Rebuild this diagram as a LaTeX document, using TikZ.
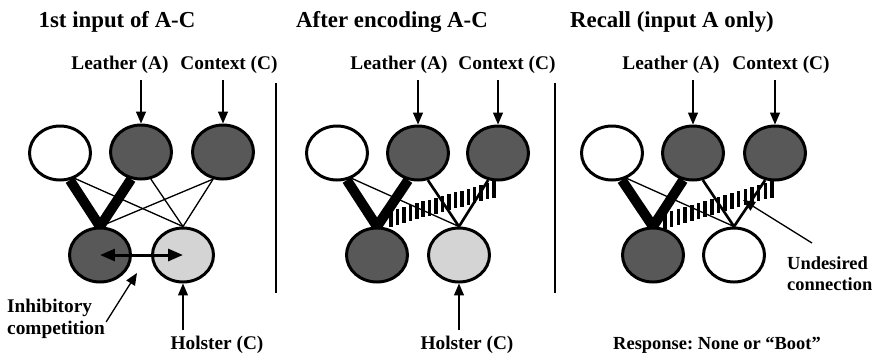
\documentclass[tikz,border=0pt]{standalone}
\usepackage{fontspec}
\setmainfont{Liberation Serif}
\frenchspacing
\definecolor{unitdark}{RGB}{88,88,88}
\definecolor{unitlight}{RGB}{212,212,212}
\usetikzlibrary{arrows.meta,positioning,shapes.geometric,calc,backgrounds}

\newcommand{\hatchband}[2]{%
  \foreach \i in {0,...,16} {\draw[line width=2pt] ($(#1)!\i/16!(#2)$) ++(0,-8) -- ++(0,16);}}

\begin{document}
\begin{tikzpicture}[x=0.02cm, y=-0.02cm,
  unit/.style={draw=black, line width=1.7pt, ellipse, minimum width=1.22cm, minimum height=1.08cm, inner sep=0pt},
  on/.style={unit, fill=unitdark},
  off/.style={unit, fill=white},
  half/.style={unit, fill=unitlight},
  title/.style={font=\fontsize{13}{15}\selectfont\bfseries},
  lab/.style={font=\fontsize{11}{12.5}\selectfont\bfseries, align=left},
  inp/.style={line width=0.75pt, -{Triangle[length=0.24cm,width=0.2cm]}},
  dbl/.style={line width=1.7pt, {Triangle[length=0.3cm,width=0.24cm]}-{Triangle[length=0.3cm,width=0.24cm]}},
  strong/.style={line width=0.2cm},
  mid/.style={line width=1.5pt},
  weak/.style={line width=0.75pt}
]
  \useasboundingbox (0,0) rectangle (875,360);

  %% Titles
  \node[title] (t1) at (117,22) {1st input of A-C};
  \node[title] (t2) at (392,22) {After encoding A-C};
  \node[title] (t3) at (672,22) {Recall (input A only)};

  %% Separators
  \draw[line width=0.75pt] (276,83) -- (276,293);
  \draw[line width=0.75pt] (555,83) -- (555,293);

  %% Panel 1: first input
  \node[off]  (o1) at (60,153) {};
  \node[on]   (a1) at (141,152) {};
  \node[on]   (c1) at (223,152) {};
  \node[on]   (r1) at (100,255) {};
  \node[half] (h1) at (183,255) {};
  \node[lab] (la1) at (120,65) {Leather (A)};
  \node[lab] (lc1) at (229,65) {Context (C)};
  \node[lab] (lh1) at (217,345) {Holster (C)};
  \node[lab, anchor=north west] (ic) at (1,293) {Inhibitory\\competition};
  \coordinate (gap1) at (137,273);
  \draw[inp] (la1.south -| a1.north) -- (a1.north);
  \draw[inp] (lc1.south -| c1.north) -- (c1.north);
  \draw[inp] (lh1.north -| h1.south) -- (h1.south);
  \draw[inp] ($(ic.east)+(-5,3)$) -- (gap1);
  \draw[dbl] (r1.center) -- (h1.center);
  \begin{scope}[on background layer]
    \draw[strong] (o1.290) -- (r1.north);
    \draw[strong] (a1.250) -- (r1.north);
    \draw[weak] (o1.300) -- (h1.north);
    \draw[weak] (a1.290) -- (h1.north);
    \draw[weak] (c1.250) -- (r1.north);
    \draw[weak] (c1.250) -- (h1.north);
  \end{scope}

  %% Panel 2: after encoding
  \node[off]  (o2) at (337,153) {};
  \node[on]   (a2) at (418,153) {};
  \node[on]   (c2) at (498,153) {};
  \node[on]   (r2) at (377,255) {};
  \node[half] (h2) at (459,255) {};
  \node[lab] (la2) at (399,65) {Leather (A)};
  \node[lab] (lc2) at (507,65) {Context (C)};
  \node[lab] (lh2) at (467,345) {Holster (C)};
  \draw[inp] (la2.south -| a2.north) -- (a2.north);
  \draw[inp] (lc2.south -| c2.north) -- (c2.north);
  \draw[inp] (lh2.north -| h2.south) -- (h2.south);
  \begin{scope}[on background layer]
    \draw[strong] (o2.290) -- (r2.north);
    \draw[strong] (a2.250) -- (r2.north);
    \draw[weak] (o2.300) -- (h2.north);
    \draw[mid] (a2.290) -- (h2.north);
    \draw[mid] (c2.250) -- (h2.north);
    \hatchband{$(r2.north)+(14,-8)$}{$(c2.south)+(-4,8)$}
  \end{scope}

  %% Panel 3: recall
  \node[off] (o3) at (612,153) {};
  \node[on]  (a3) at (693,153) {};
  \node[on]  (c3) at (775,153) {};
  \node[on]  (r3) at (653,255) {};
  \node[off] (h3) at (734,255) {};
  \node[lab] (la3) at (671,65) {Leather (A)};
  \node[lab] (lc3) at (781,65) {Context (C)};
  \node[lab, anchor=north west, font=\fontsize{10.5}{12.5}\selectfont\bfseries] (un) at (781,250) {Undesired\\connection};
  \node[lab, font=\fontsize{10.5}{12}\selectfont\bfseries] (resp) at (717,345) {Response: None or “Boot”};
  \coordinate (ud) at (743,200);
  \draw[inp] ($(un.north west)+(31,-7)$) -- (ud);
  \draw[inp] (la3.south -| a3.north) -- (a3.north);
  \draw[inp] (lc3.south -| c3.north) -- (c3.north);
  \begin{scope}[on background layer]
    \draw[strong] (o3.290) -- (r3.north);
    \draw[strong] (a3.250) -- (r3.north);
    \draw[weak] (o3.300) -- (h3.north);
    \draw[mid] (a3.290) -- (h3.north);
    \draw[mid] (c3.250) -- (h3.north);
    \hatchband{$(r3.north)+(12,-6)$}{$(c3.south)+(-3,8)$}
  \end{scope}
\end{tikzpicture}
\end{document}
